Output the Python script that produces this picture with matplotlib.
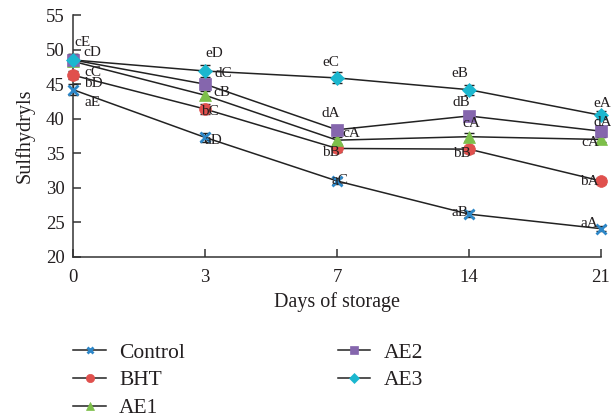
import numpy as np
import matplotlib.pyplot as plt

days = ["0", "3", "7", "14", "21"]
series_names = ["Control", "BHT", "AE1", "AE2", "AE3"]

control = [44.2, 37.3, 31.0, 26.2, 24.1]
bht = [46.3, 41.4, 35.7, 35.6, 31.0]
ae1 = [48.3, 43.4, 36.9, 37.4, 37.0]
ae2 = [48.5, 45.0, 38.4, 40.4, 38.2]
ae3 = [48.5, 46.9, 45.9, 44.2, 40.5]

control_err = [0.8, 0.6, 0.4, 0.4, 0.4]
bht_err = [0.6, 0.7, 0.5, 0.5, 0.4]
ae1_err = [0.6, 0.6, 0.5, 0.6, 0.4]
ae2_err = [0.8, 0.7, 0.5, 0.6, 0.5]
ae3_err = [0.9, 0.8, 0.8, 0.7, 0.6]

control_lab = ["aE", "aD", "aC", "aB", "aA"]
bht_lab = ["bD", "bC", "bB", "bB", "bA"]
ae1_lab = ["cC", "cB", "cA", "cA", "cA"]
ae2_lab = ["cD", "dC", "dA", "dB", "dA"]
ae3_lab = ["cE", "eD", "eC", "eB", "eA"]

# label offsets in pixels (x right, y up)
control_off = [(20, -13), (8, -3), (3, 0), (-9, 2), (-12, 5)]
bht_off = [(20, -8), (5, -2), (-6, -4), (-7, -4), (-12, -1)]
ae1_off = [(20, -11), (17, 3), (14, 7), (2, 13), (-11, -3)]
ae2_off = [(19, 7), (18, 11), (-6, 16), (-8, 13), (2, 9)]
ae3_off = [(9, 17), (9, 18), (-6, 15), (-9, 16), (1, 12)]

plt.rcParams['font.family'] = ['Liberation Serif', 'DejaVu Serif']
TXT = "#231f20"

fig = plt.figure(figsize=(6.11, 4.17), dpi=100)
ax = fig.add_axes([0.1195, 0.3837, 0.864, 0.5803])

x = np.arange(len(days))
styles = [
    (control, control_err, control_lab, control_off, "x", "#2d87c8", 7),
    (bht, bht_err, bht_lab, bht_off, "o", "#e0504d", 8.5),
    (ae1, ae1_err, ae1_lab, ae1_off, "^", "#7dbf4a", 8.5),
    (ae2, ae2_err, ae2_lab, ae2_off, "s", "#8566ad", 8.5),
    (ae3, ae3_err, ae3_lab, ae3_off, "D", "#1bb7cf", 7),
]

for name, (vals, errs, labs, offs, mk, col, ms) in zip(series_names, styles):
    ax.errorbar(x, vals, yerr=errs, fmt="none", ecolor="#222222",
                elinewidth=1.0, capsize=3.5, capthick=1.0, clip_on=False, zorder=2)
    ax.plot(x, vals, color="#222222", lw=1.1, marker=mk, ms=ms,
            mfc=col, mec=col, mew=2 if mk == "x" else 0.5,
            label=name, clip_on=False, zorder=3)
    for xi, v, lab, off in zip(x, vals, labs, offs):
        ax.annotate(lab, (xi, v), xytext=off, textcoords="offset pixels",
                    ha="center", va="center", fontsize=11, color=TXT,
                    annotation_clip=False, zorder=4)

ax.set_xlim(0, 4)
ax.set_ylim(20, 55)
ax.set_xticks(x)
ax.set_xticklabels(days)
ax.set_yticks(np.arange(20, 56, 5))
ax.spines["top"].set_visible(False)
ax.spines["right"].set_visible(False)
for s in ["left", "bottom"]:
    ax.spines[s].set_color("#333333")
    ax.spines[s].set_linewidth(1.1)
ax.tick_params(direction="in", length=6, width=1.1, color="#333333",
               labelsize=13.5, labelcolor=TXT)
ax.tick_params(axis="x", pad=9)
ax.tick_params(axis="y", pad=6)
ax.set_xlabel("Days of storage", fontsize=14.5, color=TXT, labelpad=4)
ax.set_ylabel("Sulfhydryls", fontsize=14.5, color=TXT, labelpad=8)

fig.legend(loc="upper left", bbox_to_anchor=(0.12, 0.178), bbox_transform=fig.transFigure,
           ncol=2, frameon=False, fontsize=15.5, handlelength=1.52, handletextpad=0.6,
           columnspacing=7.1, labelspacing=0.35, borderaxespad=0, borderpad=0,
           labelcolor=TXT, markerscale=0.7)

fig.savefig("out.png", dpi=100)
